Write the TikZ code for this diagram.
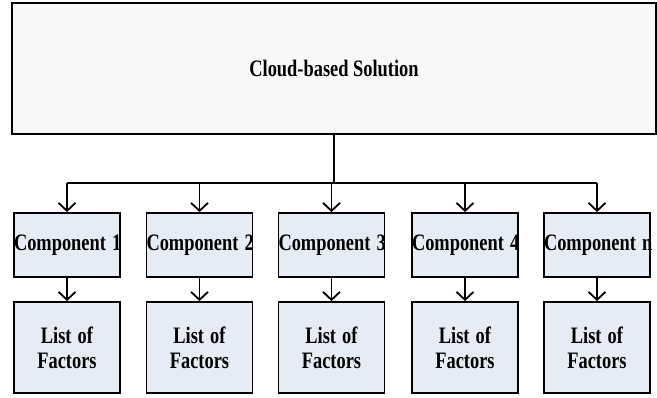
\documentclass[tikz,border=0pt]{standalone}
\usepackage{fontspec}
\setmainfont{Liberation Serif}
\usepackage{tikz}
\usetikzlibrary{arrows.meta, positioning}

\definecolor{topfill}{HTML}{F8F8F8}
\definecolor{compfill}{HTML}{E6ECF6}

% slightly taller lettering
\newcommand{\tall}[1]{\scalebox{1}[1.28]{#1}}

\tikzset{
  solbox/.style={draw, line width=1.8pt, fill=topfill, minimum width=644pt,
    minimum height=131pt, inner sep=0pt, font=\bfseries\fontsize{18.4}{22}\selectfont},
  compbox/.style={draw, line width=1.8pt, fill=compfill, minimum width=106pt,
    text width=106pt, align=center, minimum height=64pt, inner sep=0pt,
    font=\bfseries\fontsize{18.4}{22}\selectfont},
  factbox/.style={compbox, minimum height=91pt,
    font=\bfseries\fontsize{18.4}{25}\selectfont},
  link/.style={line width=1.8pt, -{Straight Barb[length=8pt, width=17pt, line width=1.8pt]}},
}

\begin{document}
\begin{tikzpicture}[x=1pt, y=1pt]
  \useasboundingbox (0,0) rectangle (657,398);

  % Top level box
  \node[solbox] (sol) at (334,329.5) {\tall{Cloud-based Solution}};

  % Components and their factor lists
  \foreach \i/\x/\lbl in {1/67/1, 2/199.5/2, 3/331.5/3, 4/465/4, 5/597/n} {
    \node[compbox] (comp\i) at (\x,153) {\raisebox{-3pt}{\tall{Component~\lbl}}};
    \node[factbox] (fact\i) at (\x,50.5) {\tall{List of}\\\tall{Factors}};
    \draw[link] (comp\i) -- (fact\i);
  }

  % Bus from the solution box to each component
  \coordinate (bus) at (334,215);
  \draw[line width=1.8pt] (sol.south) -- (bus);
  \draw[line width=1.8pt] (comp1.north |- bus) -- (comp5.north |- bus);
  \foreach \i in {1,...,5}
    \draw[link] (comp\i.north |- bus) -- (comp\i.north);
\end{tikzpicture}
\end{document}
